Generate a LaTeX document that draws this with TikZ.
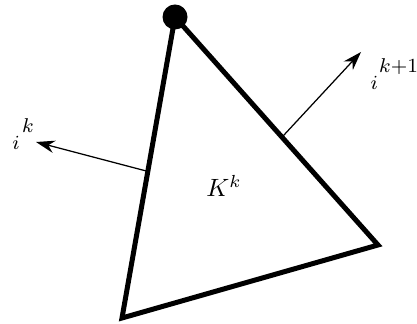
\documentclass[tikz,border=0pt]{standalone}
\usepackage{amsmath,amssymb}
\usetikzlibrary{arrows.meta,calc}

\begin{document}
\begin{tikzpicture}[x=0.4pt, y=-0.4pt, every node/.style={font=\normalsize}, >={Stealth[length=7.5pt,width=5pt]}]
	\useasboundingbox (0,0) rectangle (417,324);
	% vertices of the simplex
	\coordinate (vtop) at (175,17);
	\coordinate (vright) at (378,245);
	\coordinate (vleft) at (122,318);
	\draw[line width=2pt, line join=miter] (vtop) -- (vright) -- (vleft) -- cycle;
	\fill[black] (vtop) circle (5pt);
	\node (Kk) at (224,186) {$K^k$};
	% outer normals
	\coordinate (nl) at ($(vleft)!0.487!(vtop)$);
	\coordinate (nr) at ($(vtop)!0.527!(vright)$);
	\node[anchor=base west, inner sep=0pt, font=\footnotesize] (lab1) at (12,150) {$i$\hspace{1pt}\raisebox{6.8pt}{$k$}};
	\node[anchor=base west, inner sep=0pt, font=\footnotesize] (lab2) at (370,90) {$i$\hspace{0.6pt}\raisebox{6.8pt}{$k{+}1$}};
	\coordinate (tl) at (36,142);
	\coordinate (tr) at (361,52);
	\draw[->, line width=0.5pt] (nl) -- (tl);
	\draw[->, line width=0.5pt] (nr) -- (tr);
\end{tikzpicture}
\end{document}
